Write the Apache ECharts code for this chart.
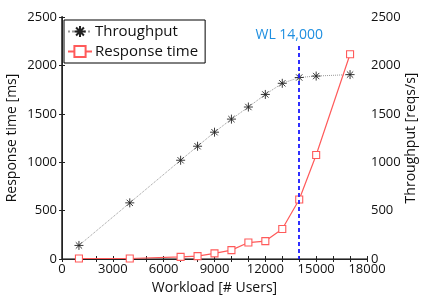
<!DOCTYPE html>
<html>
<head>
<meta charset="utf-8">
<script src="https://cdn.jsdelivr.net/npm/echarts@6/dist/echarts.min.js"></script>
<style>
  html, body { margin: 0; padding: 0; background: #fff; }
  #chart { width: 422px; height: 297px; }
</style>
</head>
<body>
<div id="chart"></div>
<script>
// 工作负载（用户数）
const workload = [1000, 4000, 7000, 8000, 9000, 10000, 11000, 12000, 13000, 14000, 15000, 17000];
// 吞吐量 [reqs/s]
const throughput = [140, 580, 1020, 1165, 1310, 1445, 1570, 1700, 1815, 1875, 1890, 1905];
// 响应时间 [ms]
const responseTime = [5, 5, 22, 30, 58, 92, 170, 185, 310, 615, 1075, 2115];
const xTicks = [0, 3000, 6000, 9000, 12000, 15000, 18000];
const wlMark = 14000;

const font = "'Open Sans', 'Noto Sans', sans-serif";
const star = "path://M0,5L10,5M5,0L5,10M1.5,1.5L8.5,8.5M8.5,1.5L1.5,8.5";
const plain = (v) => String(v);

const chart = echarts.init(document.getElementById("chart"));

chart.setOption({
  animation: false,
  backgroundColor: "#fff",
  grid: { left: 62, right: 55, top: 17, bottom: 38, outerBoundsMode: "none" },
  legend: {
    orient: "vertical",
    left: 64,
    top: 20,
    padding: [4, 7, 4, 3],
    itemGap: 5,
    itemWidth: 24,
    itemHeight: 14,
    borderColor: "#000",
    borderWidth: 1,
    backgroundColor: "#fff",
    textStyle: { fontFamily: font, fontSize: 15, color: "#111", padding: [0, 0, 0, -2] },
    data: ["Throughput", "Response time"],
  },
  xAxis: [
    {
      type: "value",
      min: xTicks[0],
      max: xTicks[xTicks.length - 1],
      interval: 3000,
      name: "Workload [# Users]",
      nameLocation: "middle",
      nameGap: 22,
      nameTextStyle: { fontFamily: font, fontSize: 14, color: "#111" },
      axisLine: { lineStyle: { color: "#555", width: 1.5 } },
      axisTick: { inside: true, length: 3, lineStyle: { color: "#222" } },
      minorTick: { show: true, splitNumber: 3, length: 3, lineStyle: { color: "#222" } },
      axisLabel: { fontFamily: font, fontSize: 13, color: "#111", margin: 4, formatter: plain },
      splitLine: { show: false },
    },
    {
      type: "value",
      position: "top",
      min: 0,
      max: 18000,
      interval: 3000,
      axisLine: { show: true, lineStyle: { color: "#222", width: 1 } },
      axisTick: { inside: true, length: 3, lineStyle: { color: "#222" } },
      minorTick: { show: true, splitNumber: 3, length: 3, lineStyle: { color: "#222" } },
      axisLabel: { show: false },
      splitLine: { show: false },
    },
  ],
  yAxis: [
    {
      type: "value",
      min: 0,
      max: 2500,
      interval: 500,
      name: "Response time [ms]",
      nameLocation: "middle",
      nameGap: 43,
      nameMoveOverlap: false,
      nameTextStyle: { fontFamily: font, fontSize: 14, color: "#111" },
      axisLine: { show: true, lineStyle: { color: "#555", width: 2 } },
      axisTick: { show: true, inside: true, length: 3, lineStyle: { color: "#222" } },
      axisLabel: { fontFamily: font, fontSize: 13, color: "#111", margin: 5, formatter: plain },
      splitLine: { show: false },
    },
    {
      type: "value",
      min: 0,
      max: 2500,
      interval: 500,
      position: "right",
      name: "Throughput [reqs/s]",
      nameLocation: "middle",
      nameGap: 37,
      nameMoveOverlap: false,
      nameTextStyle: { fontFamily: font, fontSize: 14, color: "#111" },
      axisLine: { show: true, lineStyle: { color: "#222", width: 1 } },
      axisTick: { show: true, inside: true, length: 3, lineStyle: { color: "#222" } },
      axisLabel: { fontFamily: font, fontSize: 13, color: "#111", margin: 4, formatter: plain },
      splitLine: { show: false },
    },
  ],
  series: [
    {
      name: "Throughput",
      type: "line",
      yAxisIndex: 1,
      data: workload.map((w, i) => [w, throughput[i]]),
      symbol: star,
      symbolSize: 9,
      showAllSymbol: true,
      lineStyle: { color: "#999", width: 1, type: "dotted" },
      itemStyle: { color: "#222", borderColor: "#222", borderWidth: 0.9 },
      z: 3,
    },
    {
      name: "Response time",
      type: "line",
      yAxisIndex: 0,
      data: workload.map((w, i) => [w, responseTime[i]]),
      symbol: "rect",
      symbolSize: 7,
      showAllSymbol: true,
      lineStyle: { color: "#ff5a5a", width: 1.2 },
      itemStyle: { color: "#fff", borderColor: "#ff5a5a", borderWidth: 1.1 },
      z: 4,
      markLine: {
        silent: true,
        symbol: "none",
        lineStyle: { color: "#1a1aff", width: 1.8, type: [4, 3] },
        label: {
          show: true,
          position: "start",
          formatter: "WL 14,000",
          color: "#1f8fe0",
          fontFamily: font,
          fontSize: 14,
          distance: 4,
          offset: [-10, 0],
        },
        data: [[{ coord: [wlMark, 2200] }, { coord: [wlMark, 0] }]],
      },
    },
  ],
});
</script>
</body>
</html>
